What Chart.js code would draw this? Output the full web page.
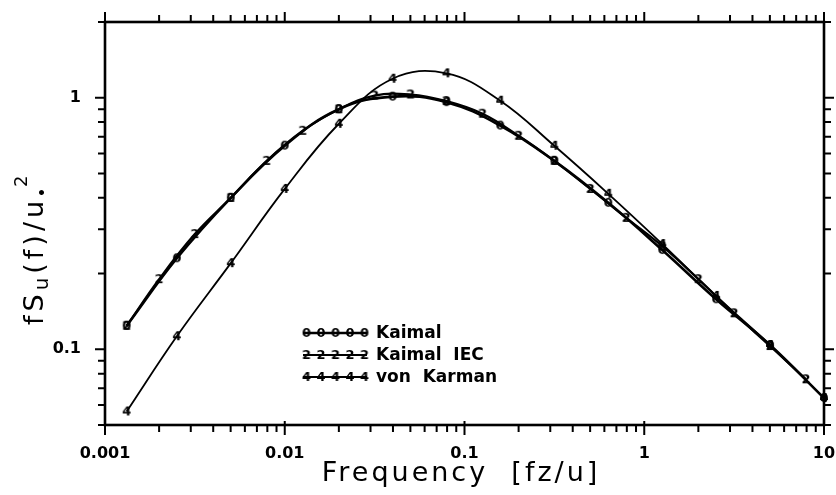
<!DOCTYPE html>
<html lang="en">
<head>
<meta charset="UTF-8" />
<title>Spectra</title>
<style>
  body { margin: 0; background: #fff; }
  #spectra { display: block; }
</style>
</head>
<body>
<canvas id="spectra" width="836" height="495"></canvas>
<script src="https://cdn.jsdelivr.net/npm/chart.js@4"></script>
<script>
// values (both axes log)
const kaimalX = [0.00132, 0.00251, 0.00501, 0.01, 0.02, 0.0398, 0.0794, 0.158, 0.316, 0.631, 1.26, 2.51, 5.01, 10];
const kaimalY = [0.124, 0.23, 0.40, 0.645, 0.90, 1.01, 0.96, 0.775, 0.561, 0.382, 0.248, 0.158, 0.104, 0.064];

const iecX = [0.00132, 0.002, 0.00316, 0.00501, 0.00794, 0.0126, 0.02, 0.0316, 0.0501, 0.0794,
              0.126, 0.2, 0.316, 0.501, 0.794, 1.26, 2, 3.16, 5.01, 7.94];
const iecY = [0.124, 0.190, 0.287, 0.40, 0.561, 0.739, 0.90, 1.02, 1.03, 0.97,
              0.864, 0.706, 0.561, 0.434, 0.333, 0.257, 0.190, 0.139, 0.103, 0.076];

const karmanX = [0.00132, 0.00251, 0.00501, 0.01, 0.02, 0.0398, 0.0794, 0.158, 0.316, 0.631, 1.26, 2.51, 5.01, 10];
const karmanY = [0.0566, 0.1127, 0.220, 0.434, 0.788, 1.19, 1.25, 0.973, 0.644, 0.415, 0.262, 0.163, 0.104, 0.064];

const xMajorTicks = [0.001, 0.01, 0.1, 1, 10];
const xTickLabels = ['0.001', '0.01', '0.1', '1', '10'];
const yMajorTicks = [0.1, 1];
const yTickLabels = ['0.1', '1'];

const seriesNames = ['Kaimal', 'Kaimal  IEC', 'von  Karman'];
const seriesMarks = ['0', '2', '4'];

const FONT = "'DejaVu Sans', sans-serif";

// digits used as point markers, like the old plotting package did
function digitMarker(d) {
  const c = document.createElement('canvas');
  c.width = 12; c.height = 14;
  const g = c.getContext('2d');
  g.font = 'bold 13px ' + FONT;
  g.textAlign = 'center';
  g.textBaseline = 'middle';
  g.fillStyle = '#000';
  g.fillText(d, 6, 7.5);
  return c;
}
const markers = seriesMarks.map(digitMarker);

function pairs(xs, ys) {
  return xs.map((x, i) => ({ x: x, y: ys[i] }));
}

// majors from the list, minors 2..9 in every decade inside [min, max]
function logTicks(majors, min, max) {
  const decades = [majors[0] / 10].concat(majors);
  const out = [];
  decades.forEach((d, di) => {
    for (let k = 1; k <= 9; k++) {
      const v = k === 1 ? d : d * k;
      if (v < min * 0.999 || v > max * 1.001) continue;
      out.push({ value: v, major: k === 1 && di > 0 });
    }
  });
  return out;
}

const lineWidths = [2.6, 2.2, 1.8];

const framePlugin = {
  id: 'frame',
  afterDraw(chart) {
    const ctx = chart.ctx;
    const a = chart.chartArea;
    const xs = chart.scales.x, ys = chart.scales.y;
    ctx.save();
    ctx.strokeStyle = '#000';
    ctx.fillStyle = '#000';

    // ticks, outward on all four sides
    ctx.lineWidth = 2;
    ctx.beginPath();
    xs.ticks.forEach(t => {
      const px = xs.getPixelForValue(t.value);
      const len = t.major ? 10 : 7;
      ctx.moveTo(px, a.bottom - (t.major ? 4 : 0));
      ctx.lineTo(px, a.bottom + len);
      ctx.moveTo(px, a.top);
      ctx.lineTo(px, a.top - len);
    });
    ys.ticks.forEach(t => {
      const py = ys.getPixelForValue(t.value);
      const len = t.major ? 10 : 7;
      ctx.moveTo(a.left, py);
      ctx.lineTo(a.left - len, py);
      ctx.moveTo(a.right, py);
      ctx.lineTo(a.right + len, py);
    });
    ctx.stroke();

    // frame
    ctx.lineWidth = 2.6;
    ctx.strokeRect(a.left, a.top, a.right - a.left, a.bottom - a.top);

    // x title
    ctx.font = '27px ' + FONT;
    ctx.letterSpacing = '3px';
    ctx.textAlign = 'center';
    ctx.textBaseline = 'alphabetic';
    ctx.fillText('Frequency  [fz/u]', 461, 481);

    // y title with sub/superscripts, rotated
    ctx.translate(43, 325);
    ctx.rotate(-Math.PI / 2);
    ctx.textAlign = 'left';
    let cx = 0;
    const part = (txt, size, dy, weight) => {
      ctx.font = (weight || '') + ' ' + size + 'px ' + FONT;
      ctx.fillText(txt, cx, dy);
      cx += ctx.measureText(txt).width;
    };
    ctx.letterSpacing = '4px';
    part('fS', 27, 0);
    part('u', 20, 5);
    part('(f)/u', 27, 0);
    ctx.letterSpacing = '1px';
    part('\u2022', 14, 4, 'bold');
    part('2', 18, -16);
    ctx.setTransform(1, 0, 0, 1, 0, 0);

    // legend block inside the plot
    const rows = [333, 355, 377];
    ctx.letterSpacing = '0px';
    ctx.font = 'bold 17px ' + FONT;
    ctx.textAlign = 'left';
    ctx.textBaseline = 'middle';
    rows.forEach((ry, i) => {
      ctx.lineWidth = lineWidths[i];
      ctx.beginPath();
      ctx.moveTo(303, ry);
      ctx.lineTo(367, ry);
      ctx.stroke();
      for (let k = 0; k < 5; k++) {
        ctx.drawImage(markers[i], 300.5 + 14.5 * k, ry - 7);
      }
      ctx.fillText(seriesNames[i], 376, ry + 1);
    });
    ctx.restore();
  }
};

const ctx = document.getElementById('spectra').getContext('2d');
Chart.defaults.color = '#000';

const chart = new Chart(ctx, {
  type: 'line',
  data: {
    datasets: [
      { label: seriesNames[0], data: pairs(kaimalX, kaimalY), borderWidth: lineWidths[0], pointStyle: markers[0] },
      { label: seriesNames[1], data: pairs(iecX, iecY), borderWidth: lineWidths[1], pointStyle: markers[1] },
      { label: seriesNames[2], data: pairs(karmanX, karmanY), borderWidth: lineWidths[2], pointStyle: markers[2] }
    ].map(ds => Object.assign(ds, {
      borderColor: '#000',
      backgroundColor: '#000',
      tension: 0.4,
      pointRadius: 5,
      clip: false
    }))
  },
  options: {
    responsive: false,
    animation: false,
    events: [],
    layout: { padding: { top: 22, right: 12, left: 0, bottom: 0 } },
    plugins: { legend: { display: false }, tooltip: { enabled: false } },
    scales: {
      x: {
        type: 'logarithmic',
        min: 0.001,
        max: 10,
        grid: { display: false, drawTicks: false },
        border: { display: false },
        afterBuildTicks: s => { s.ticks = logTicks(xMajorTicks, 0.001, 10); },
        afterFit: s => { s.height = 70; s.paddingLeft = 0; s.paddingRight = 0; },
        ticks: {
          autoSkip: false,
          maxRotation: 0,
          padding: 19,
          font: { family: FONT, weight: 'bold', size: 16 },
          callback: v => {
            const i = xMajorTicks.indexOf(v);
            return i >= 0 ? xTickLabels[i] : '';
          }
        }
      },
      y: {
        type: 'logarithmic',
        min: 0.05,
        max: 2,
        grid: { display: false, drawTicks: false },
        border: { display: false },
        afterBuildTicks: s => { s.ticks = logTicks(yMajorTicks, 0.05, 2); },
        afterFit: s => { s.width = 105; s.paddingTop = 0; s.paddingBottom = 0; },
        ticks: {
          autoSkip: false,
          padding: 24,
          font: { family: FONT, weight: 'bold', size: 16 },
          callback: v => {
            const i = yMajorTicks.indexOf(v);
            return i >= 0 ? yTickLabels[i] : '';
          }
        }
      }
    }
  },
  plugins: [framePlugin]
});
</script>
</body>
</html>
